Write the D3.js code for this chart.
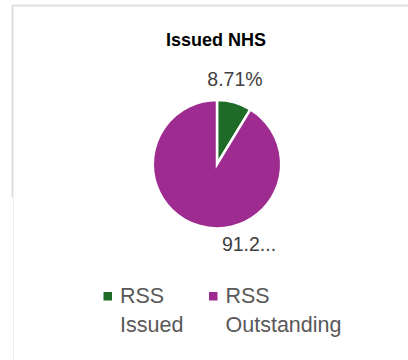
<!DOCTYPE html>
<html><head><meta charset="utf-8">
<script src="https://cdn.jsdelivr.net/npm/d3@7"></script>
<style>body{margin:0;background:#fff;}svg{display:block;font-family:"Liberation Sans",Arial,sans-serif;}</style>
</head><body>
<svg id="c" width="408" height="360"></svg>
<script>
const title = "Issued NHS";
const categories = ["RSS Issued", "RSS Outstanding"];
const legendLines = [["RSS", "Issued"], ["RSS", "Outstanding"]];
const values = [8.71, 91.29];
const labels = ["8.71%", "91.2..."];
const colors = ["#1d6b27", "#9e2b8f"];

const svg = d3.select("#c");
// frame lines
svg.append("line").attr("x1",12).attr("x2",408).attr("y1",5.5).attr("y2",5.5).attr("stroke","#e0e0e0").attr("stroke-width",2);
svg.append("line").attr("x1",12.5).attr("x2",12.5).attr("y1",5).attr("y2",197).attr("stroke","#dedede").attr("stroke-width",2);
svg.append("line").attr("x1",13.5).attr("x2",13.5).attr("y1",197).attr("y2",360).attr("stroke","#ececec").attr("stroke-width",1);

svg.append("text").attr("x",216).attr("y",45.5).attr("text-anchor","middle")
  .attr("font-size",18).attr("font-weight","bold").attr("fill","#000").text(title);

const cx = 217, cy = 164.2, r = 64.2;
const pie = d3.pie().sort(null).value(d => d)(values);
const arc = d3.arc().innerRadius(0).outerRadius(r);
const g = svg.append("g").attr("transform",`translate(${cx},${cy})`);
g.selectAll("path").data(pie).join("path")
  .attr("d", arc).attr("fill",(d,i)=>colors[i])
  .attr("stroke","#fff").attr("stroke-width",2.5).attr("stroke-linejoin","miter");

// data labels
const labelPos = [[235, 86], [249, 250.7]];
svg.selectAll("text.lbl").data(labels).join("text").attr("class","lbl")
  .attr("x",(d,i)=>labelPos[i][0]).attr("y",(d,i)=>labelPos[i][1])
  .attr("text-anchor","middle").attr("font-size",19.5).attr("fill","#404040").text(d=>d);

// legend
const legX = [103.5, 209];
const lg = svg.selectAll("g.leg").data(categories).join("g").attr("class","leg")
  .attr("transform",(d,i)=>`translate(${legX[i]},0)`);
lg.append("rect").attr("x",0).attr("y",292).attr("width",8.5).attr("height",8.5).attr("fill",(d,i)=>colors[i]);
lg.each(function(d,i){
  const t = d3.select(this).append("text").attr("font-size",21.5).attr("fill","#595959");
  legendLines[i].forEach((ln,j)=>{
    t.append("tspan").attr("x",16.5).attr("y",303.3 + j*28.4).text(ln);
  });
});
</script>
</body></html>
